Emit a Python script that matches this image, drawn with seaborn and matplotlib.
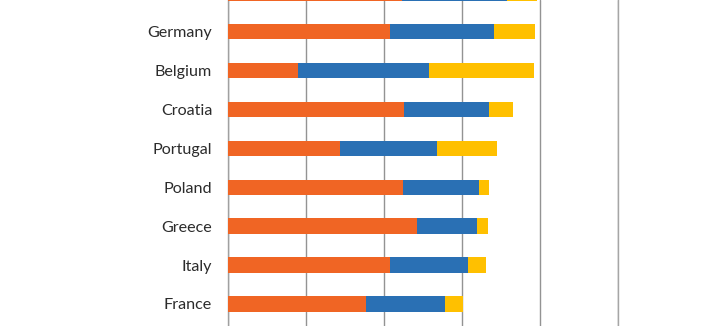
import matplotlib
matplotlib.use("Agg")
import matplotlib.pyplot as plt
import seaborn as sns
import numpy as np

# Countries listed top to bottom
countries = ["Spain", "Germany", "Belgium", "Croatia", "Portugal",
             "Poland", "Greece", "Italy", "France"]

# Three stacked components per country (percent)
orange_vals = [44.6, 41.7, 18.1, 45.3, 28.7, 45.0, 48.4, 41.7, 35.4]
blue_vals = [26.9, 26.5, 33.6, 21.6, 25.0, 19.3, 15.6, 20.0, 20.3]
yellow_vals = [7.7, 10.6, 26.8, 6.3, 15.2, 2.7, 2.7, 4.6, 4.7]

x_ticks = [0, 20, 40, 60, 80, 100]

ORANGE = "#F06524"
BLUE = "#2A70B4"
YELLOW = "#FFC000"
GRID = "#939393"

sns.set_style("white")
plt.rcParams["font.family"] = ["Lato", "DejaVu Sans"]

fig = plt.figure(figsize=(7.12, 3.26), dpi=100)
ax = fig.add_axes([227.5 / 712, 0, (618 - 227.5) / 712, 1])

o = np.array(orange_vals)
b = np.array(blue_vals)
y = np.array(yellow_vals)

# Stacked bars: draw the running totals from the longest down
for total, col in [(o + b + y, YELLOW), (o + b, BLUE), (o, ORANGE)]:
    sns.barplot(x=total, y=countries, orient="h", color=col, width=0.4,
                saturation=1, errorbar=None, linewidth=0, ax=ax, zorder=3)

ax.set_xticks(x_ticks)
ax.xaxis.grid(True, color=GRID, linewidth=1.0, zorder=0)
ax.set_axisbelow(True)
ax.tick_params(axis="x", bottom=False, labelbottom=False)

ax.set_xlabel("")
ax.set_ylabel("")
for side in ["top", "bottom"]:
    ax.spines[side].set_visible(False)
ax.spines["right"].set_color("#a6a6a6")
ax.spines["left"].set_color("#a0a0a0")
ax.spines["right"].set_linewidth(1.0)
ax.spines["left"].set_linewidth(1.0)

# Category labels, with tick marks between categories
ax.tick_params(axis="y", which="major", length=0, pad=11,
               labelsize=11.6, labelcolor="#2b2b2b")
ax.set_yticks(np.arange(len(countries) + 1) - 0.5, minor=True)
ax.tick_params(axis="y", which="minor", length=5, width=1.0, color="#a0a0a0")

ax.set_xlim(0, 100)
ax.set_ylim(8.566, 0.185)

fig.savefig("out.png", dpi=100)
